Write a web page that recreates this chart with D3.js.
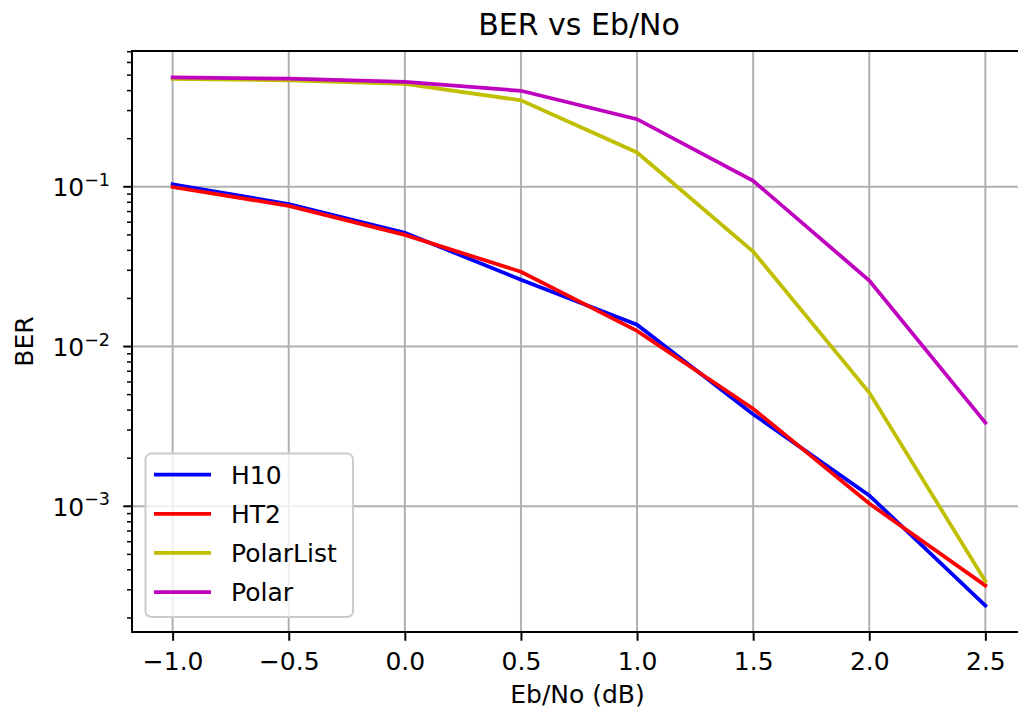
<!DOCTYPE html>
<html>
<head>
<meta charset="utf-8">
<script src="https://cdn.jsdelivr.net/npm/d3@7"></script>
<style>
  body { margin: 0; background: #fff; }
  svg { font-family: "DejaVu Sans", sans-serif; }
</style>
</head>
<body>
<div id="chart"></div>
<script>
// data
var ebno = [-1.0, -0.5, 0.0, 0.5, 1.0, 1.5, 2.0, 2.5];
var h10 = [0.1037, 0.078, 0.0516, 0.0262, 0.0137, 0.00377, 0.00117, 0.000239];
var ht2 = [0.0997, 0.076, 0.0500, 0.0294, 0.01254, 0.00408, 0.00104, 0.000319];
var polarList = [0.473, 0.464, 0.440, 0.348, 0.164, 0.0393, 0.00515, 0.00034];
var polar = [0.484, 0.475, 0.454, 0.399, 0.265, 0.109, 0.0259, 0.00334];
var seriesNames = ["H10", "HT2", "PolarList", "Polar"];
var seriesColors = ["#0000ff", "#ff0000", "#bfbf00", "#bf00bf"];
var xTicks = [-1.0, -0.5, 0.0, 0.5, 1.0, 1.5, 2.0, 2.5];
var yTickExp = [-1, -2, -3];

(function() {
  var W = 1018, H = 711;
  var pLeft = 132, pRight = 1026, pTop = 51, pBottom = 632;
  var fs = 25;

  var svg = d3.select("#chart").append("svg").attr("width", W).attr("height", H);

  var x = d3.scaleLinear().domain([-1.175, 2.675]).range([pLeft, pRight]);
  var y = d3.scaleLog().domain([Math.pow(10, -3.787), Math.pow(10, -0.150)]).range([pBottom, pTop]);

  var allSeries = [h10, ht2, polarList, polar];

  // grid
  svg.append("g").selectAll("line").data(xTicks).enter().append("line")
      .attr("x1", function(d) { return x(d); }).attr("x2", function(d) { return x(d); })
      .attr("y1", pTop).attr("y2", pBottom)
      .attr("stroke", "#b0b0b0").attr("stroke-width", 2);
  svg.append("g").selectAll("line").data(yTickExp).enter().append("line")
      .attr("x1", pLeft).attr("x2", pRight)
      .attr("y1", function(d) { return y(Math.pow(10, d)); }).attr("y2", function(d) { return y(Math.pow(10, d)); })
      .attr("stroke", "#b0b0b0").attr("stroke-width", 2);

  // lines
  var line = d3.line()
      .x(function(d, i) { return x(ebno[i]); })
      .y(function(d) { return y(d); });

  svg.append("g").selectAll("path").data(allSeries).enter().append("path")
      .attr("d", line)
      .attr("fill", "none")
      .attr("stroke", function(d, i) { return seriesColors[i]; })
      .attr("stroke-width", 3.75)
      .attr("stroke-linecap", "square");

  // x axis
  var xAxis = d3.axisBottom(x).tickValues(xTicks).tickSize(8.75).tickPadding(8)
      .tickFormat(function(d) { return d3.format(".1f")(d).replace("-", "\u2212"); });
  var gx = svg.append("g").attr("transform", "translate(0," + pBottom + ")").call(xAxis)
      .attr("font-size", fs).attr("font-family", "DejaVu Sans");
  gx.select(".domain").remove();
  gx.selectAll(".tick line").attr("stroke", "#000").attr("stroke-width", 2);
  gx.selectAll(".tick text").attr("fill", "#000").attr("dy", null).attr("y", 38);

  // y axis minor ticks
  var minor = [];
  for (var e = -4; e <= 0; e++) {
    for (var m = 2; m <= 9; m++) {
      var v = m * Math.pow(10, e);
      if (v >= y.domain()[0] && v <= y.domain()[1]) minor.push(v);
    }
  }
  svg.append("g").selectAll("line").data(minor).enter().append("line")
      .attr("x1", pLeft - 5).attr("x2", pLeft)
      .attr("y1", function(d) { return y(d); }).attr("y2", function(d) { return y(d); })
      .attr("stroke", "#000").attr("stroke-width", 1.5);

  var gy = svg.append("g").selectAll("g").data(yTickExp).enter().append("g")
      .attr("transform", function(d) { return "translate(0," + y(Math.pow(10, d)) + ")"; });
  gy.append("line").attr("x1", pLeft - 8.75).attr("x2", pLeft)
      .attr("stroke", "#000").attr("stroke-width", 2);
  var lbl = gy.append("text").attr("x", pLeft - 22).attr("y", 9.5)
      .attr("text-anchor", "end").attr("font-size", fs).attr("fill", "#000");
  lbl.append("tspan").text("10");
  lbl.append("tspan").attr("dy", -10.5).attr("font-size", 17.5)
      .text(function(d) { return "\u2212" + (-d); });

  // spines
  svg.append("line").attr("x1", pLeft).attr("x2", pLeft).attr("y1", pTop - 1).attr("y2", pBottom + 1)
      .attr("stroke", "#000").attr("stroke-width", 2);
  svg.append("line").attr("x1", pLeft).attr("x2", pRight).attr("y1", pBottom).attr("y2", pBottom)
      .attr("stroke", "#000").attr("stroke-width", 2);
  svg.append("line").attr("x1", pLeft).attr("x2", pRight).attr("y1", pTop).attr("y2", pTop)
      .attr("stroke", "#000").attr("stroke-width", 2);

  // titles
  svg.append("text").attr("x", (pLeft + pRight) / 2).attr("y", 35).attr("text-anchor", "middle")
      .attr("font-size", 30).attr("fill", "#000").text("BER vs Eb/No");
  svg.append("text").attr("x", 577.5).attr("y", 703).attr("text-anchor", "middle")
      .attr("font-size", fs).attr("fill", "#000").text("Eb/No (dB)");
  svg.append("text").attr("transform", "translate(33," + ((pTop + pBottom) / 2) + ") rotate(-90)")
      .attr("text-anchor", "middle").attr("font-size", fs).attr("fill", "#000").text("BER");

  // legend
  var lg = svg.append("g");
  lg.append("rect").attr("x", 145.5).attr("y", 453.5).attr("width", 207.5).attr("height", 163.5)
      .attr("rx", 6).attr("fill", "#fff").attr("fill-opacity", 0.8)
      .attr("stroke", "#cccccc").attr("stroke-width", 2);
  var rows = lg.selectAll("g").data(seriesNames).enter().append("g")
      .attr("transform", function(d, i) { return "translate(0," + (474.7 + i * 39.1) + ")"; });
  rows.append("line").attr("x1", 154).attr("x2", 211)
      .attr("stroke", function(d, i) { return seriesColors[i]; }).attr("stroke-width", 3.75);
  rows.append("text").attr("x", 231).attr("y", 9.3).attr("font-size", fs).attr("fill", "#000")
      .text(function(d) { return d; });
})();
</script>
</body>
</html>
